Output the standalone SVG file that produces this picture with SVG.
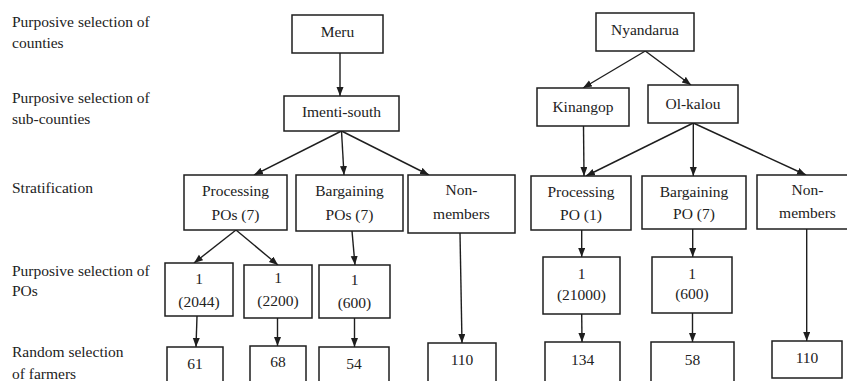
<svg xmlns="http://www.w3.org/2000/svg" width="847" height="381" viewBox="0 0 847 381">
<style>
.c{text-anchor:middle}
rect{fill:#fff;stroke:#1e1e1e;stroke-width:1.5}
#connectors line{stroke:#1e1e1e;stroke-width:1.4;marker-end:url(#ah)}
</style>
<defs>
<marker id="ah" markerUnits="userSpaceOnUse" markerWidth="10" markerHeight="8" refX="9" refY="3.5" orient="auto"><path d="M0,0 L9,3.5 L0,7 z" fill="#1e1e1e"/></marker>
</defs>
<rect x="0" y="0" width="847" height="381" style="stroke:none"/>
<g id="labels" fill="#222">
<text x="12" y="27" font-family="Liberation Serif" font-size="15.5">Purposive selection of</text>
<text x="12" y="48" font-family="Liberation Serif" font-size="15.5">counties</text>
<text x="12" y="103" font-family="Liberation Serif" font-size="15.5">Purposive selection of</text>
<text x="12" y="124" font-family="Liberation Serif" font-size="15.5">sub-counties</text>
<text x="12" y="193" font-family="Liberation Serif" font-size="15.5">Stratification</text>
<text x="12" y="276" font-family="Liberation Serif" font-size="15.5">Purposive selection of</text>
<text x="12" y="296" font-family="Liberation Serif" font-size="15.5">POs</text>
<text x="12" y="357" font-family="Liberation Serif" font-size="15.5">Random selection</text>
<text x="12" y="379" font-family="Liberation Serif" font-size="15.5">of farmers</text>
</g>
<g id="connectors">
<line x1="340" y1="53" x2="340" y2="96"/>
<line x1="341.5" y1="131" x2="254" y2="175"/>
<line x1="341.5" y1="131" x2="344" y2="175"/>
<line x1="341.5" y1="131" x2="429" y2="175"/>
<line x1="236" y1="230" x2="194" y2="263"/>
<line x1="236" y1="230" x2="278" y2="265"/>
<line x1="352" y1="231" x2="355" y2="265"/>
<line x1="460" y1="233" x2="462" y2="343"/>
<line x1="197" y1="316" x2="196" y2="347"/>
<line x1="277.5" y1="318" x2="277.5" y2="346"/>
<line x1="354.5" y1="318" x2="354.5" y2="347"/>
<line x1="645.3" y1="51" x2="583" y2="88"/>
<line x1="645.3" y1="51" x2="691" y2="85"/>
<line x1="583.5" y1="126" x2="584" y2="176"/>
<line x1="693.3" y1="123" x2="586" y2="176"/>
<line x1="693.3" y1="123" x2="693.3" y2="176"/>
<line x1="693.3" y1="123" x2="806" y2="175"/>
<line x1="581.7" y1="230" x2="581.7" y2="257"/>
<line x1="692.7" y1="229" x2="692.7" y2="257"/>
<line x1="581.7" y1="314" x2="582" y2="342"/>
<line x1="692.5" y1="313" x2="692.5" y2="342"/>
<line x1="806.7" y1="229" x2="806.7" y2="341"/>
</g>
<g id="meru" fill="#222"><rect x="292" y="15" width="91" height="38"/><text class="c" x="337.5" y="37" font-family="Liberation Serif" font-size="15.5">Meru</text></g>
<g id="imenti" fill="#222"><rect x="284" y="96" width="115" height="35"/><text class="c" x="341.5" y="117" font-family="Liberation Serif" font-size="15.5">Imenti-south</text></g>
<g id="nyandarua" fill="#222"><rect x="596" y="13" width="98" height="38"/><text class="c" x="645" y="35" font-family="Liberation Serif" font-size="15.5">Nyandarua</text></g>
<g id="kinangop" fill="#222"><rect x="537" y="88" width="92" height="38"/><text class="c" x="583" y="112" font-family="Liberation Serif" font-size="15.5">Kinangop</text></g>
<g id="olkalou" fill="#222"><rect x="648" y="85" width="90" height="38"/><text class="c" x="693" y="108.5" font-family="Liberation Serif" font-size="15.5">Ol-kalou</text></g>
<g id="proc7" fill="#222"><rect x="184" y="175" width="103" height="55"/><text class="c" x="235.5" y="196" font-family="Liberation Serif" font-size="15.5">Processing</text><text class="c" x="235.5" y="219.5" font-family="Liberation Serif" font-size="15.5">POs (7)</text></g>
<g id="barg7" fill="#222"><rect x="296" y="175" width="107" height="56"/><text class="c" x="349.5" y="196" font-family="Liberation Serif" font-size="15.5">Bargaining</text><text class="c" x="349.5" y="219.5" font-family="Liberation Serif" font-size="15.5">POs (7)</text></g>
<g id="nonL" fill="#222"><rect x="408" y="175" width="107" height="58"/><text class="c" x="461.5" y="195" font-family="Liberation Serif" font-size="15.5">Non-</text><text class="c" x="461.5" y="218.5" font-family="Liberation Serif" font-size="15.5">members</text></g>
<g id="proc1" fill="#222"><rect x="531" y="176" width="100" height="54"/><text class="c" x="581" y="196.5" font-family="Liberation Serif" font-size="15.5">Processing</text><text class="c" x="581" y="220" font-family="Liberation Serif" font-size="15.5">PO (1)</text></g>
<g id="bargR7" fill="#222"><rect x="642" y="176" width="104" height="53"/><text class="c" x="694" y="196.5" font-family="Liberation Serif" font-size="15.5">Bargaining</text><text class="c" x="694" y="219" font-family="Liberation Serif" font-size="15.5">PO (7)</text></g>
<g id="nonR" fill="#222"><rect x="757" y="175" width="101" height="54"/><text class="c" x="807.5" y="195" font-family="Liberation Serif" font-size="15.5">Non-</text><text class="c" x="807.5" y="217.5" font-family="Liberation Serif" font-size="15.5">members</text></g>
<g id="p2044" fill="#222"><rect x="165" y="263" width="68" height="53"/><text class="c" x="199" y="283.5" font-family="Liberation Serif" font-size="15.5">1</text><text class="c" x="199" y="306.5" font-family="Liberation Serif" font-size="15.5">(2044)</text></g>
<g id="p2200" fill="#222"><rect x="244" y="265" width="68" height="53"/><text class="c" x="278" y="283" font-family="Liberation Serif" font-size="15.5">1</text><text class="c" x="278" y="305.5" font-family="Liberation Serif" font-size="15.5">(2200)</text></g>
<g id="p600L" fill="#222"><rect x="319" y="265" width="71" height="53"/><text class="c" x="354.5" y="285" font-family="Liberation Serif" font-size="15.5">1</text><text class="c" x="354.5" y="308" font-family="Liberation Serif" font-size="15.5">(600)</text></g>
<g id="p21000" fill="#222"><rect x="543" y="257" width="77" height="57"/><text class="c" x="581.5" y="278.5" font-family="Liberation Serif" font-size="15.5">1</text><text class="c" x="581.5" y="300" font-family="Liberation Serif" font-size="15.5">(21000)</text></g>
<g id="p600R" fill="#222"><rect x="652" y="257" width="80" height="56"/><text class="c" x="692" y="278.5" font-family="Liberation Serif" font-size="15.5">1</text><text class="c" x="692" y="298.5" font-family="Liberation Serif" font-size="15.5">(600)</text></g>
<g id="f61" fill="#222"><rect x="167" y="347" width="56" height="40"/><text class="c" x="195" y="368.5" font-family="Liberation Serif" font-size="15.5">61</text></g>
<g id="f68" fill="#222"><rect x="250" y="346" width="56" height="40"/><text class="c" x="278" y="366.5" font-family="Liberation Serif" font-size="15.5">68</text></g>
<g id="f54" fill="#222"><rect x="319" y="347" width="70" height="40"/><text class="c" x="354" y="368.5" font-family="Liberation Serif" font-size="15.5">54</text></g>
<g id="f110L" fill="#222"><rect x="428" y="343" width="68" height="40"/><text class="c" x="462" y="365" font-family="Liberation Serif" font-size="15.5">110</text></g>
<g id="f134" fill="#222"><rect x="545" y="342" width="75" height="40"/><text class="c" x="582.5" y="364.5" font-family="Liberation Serif" font-size="15.5">134</text></g>
<g id="f58" fill="#222"><rect x="651" y="342" width="83" height="40"/><text class="c" x="692.5" y="365" font-family="Liberation Serif" font-size="15.5">58</text></g>
<g id="f110R" fill="#222"><rect x="772" y="341" width="70" height="37"/><text class="c" x="807" y="363" font-family="Liberation Serif" font-size="15.5">110</text></g>
</svg>
